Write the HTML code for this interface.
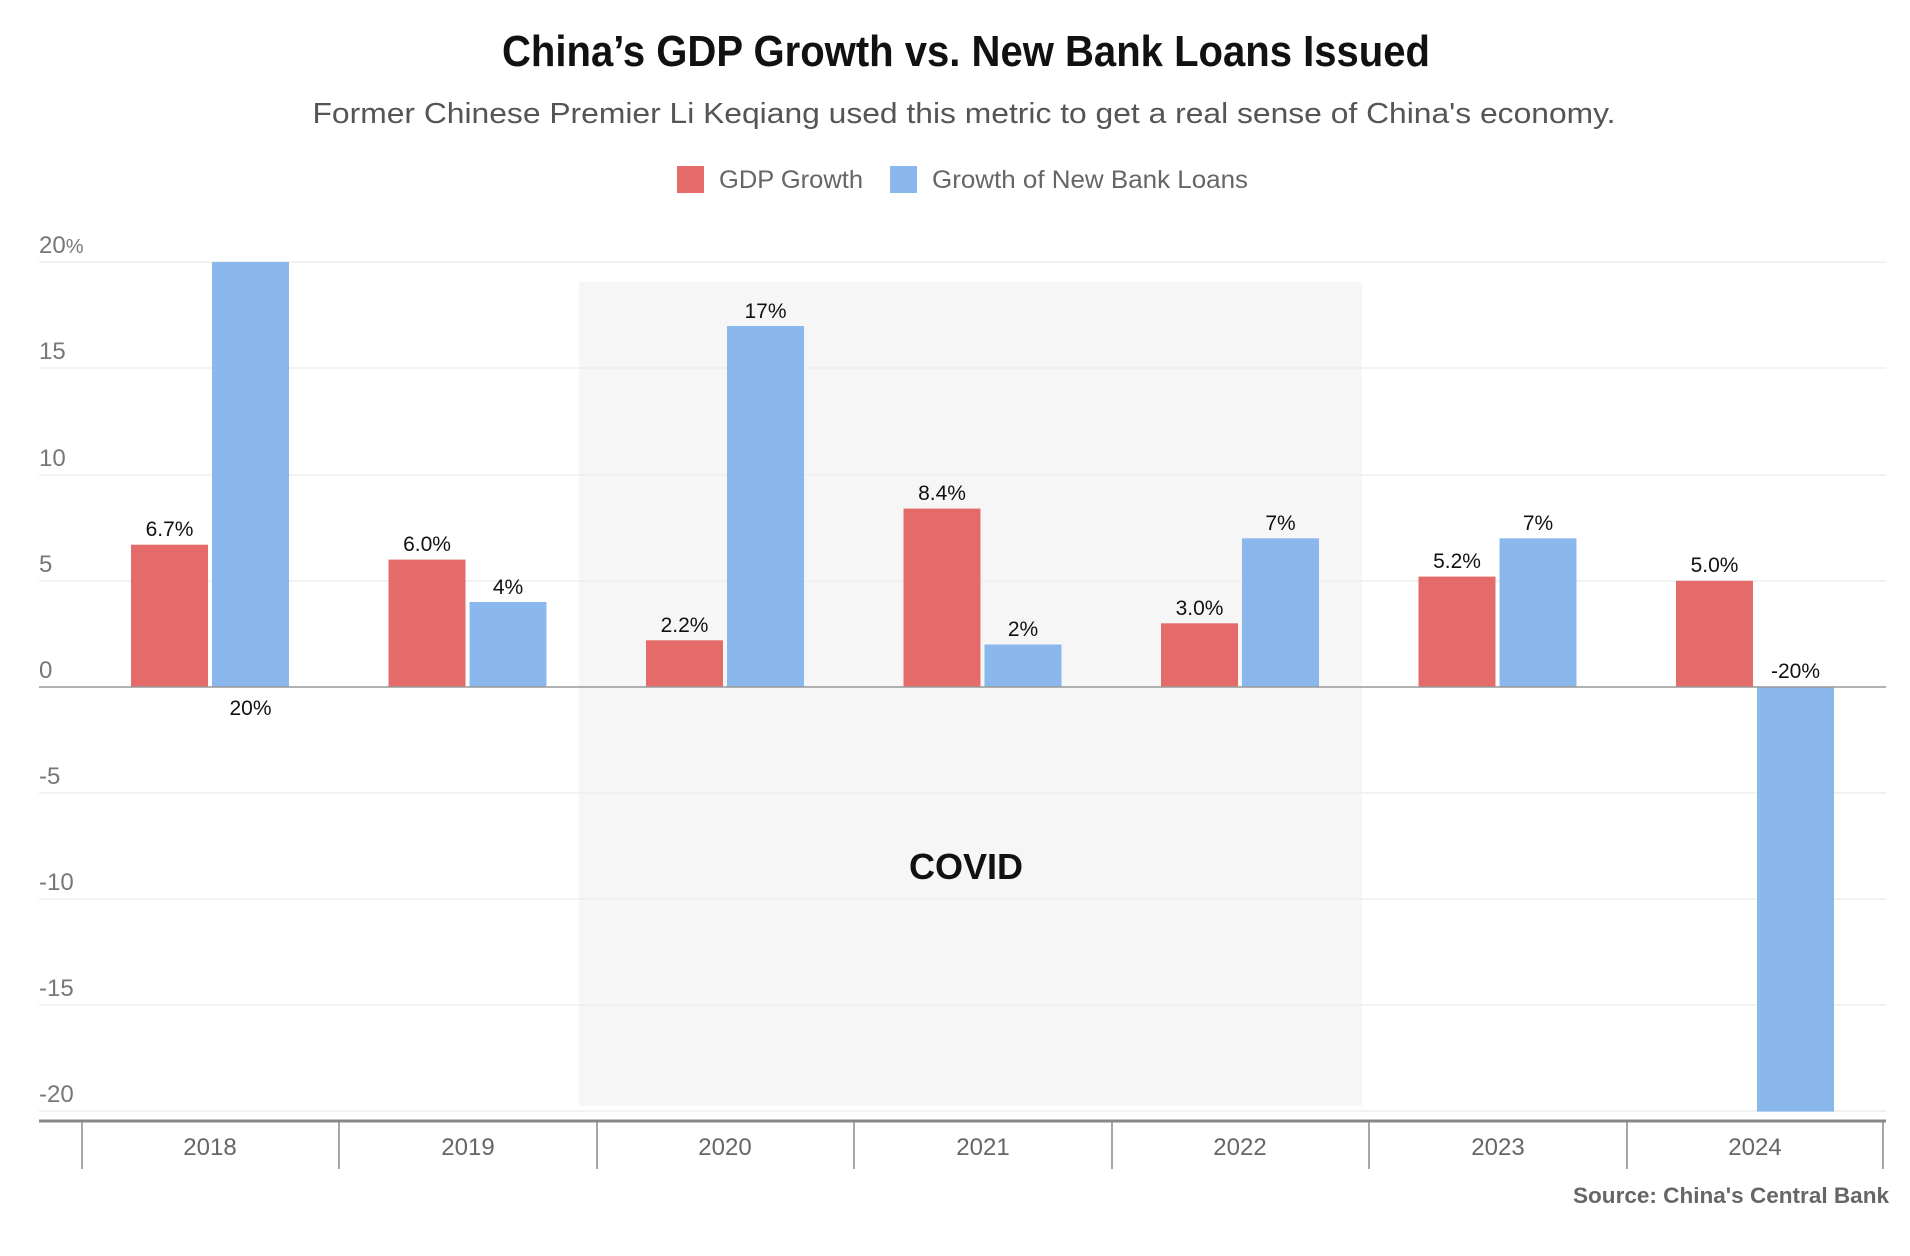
<!DOCTYPE html>
<html><head><meta charset="utf-8"><style>
html,body{margin:0;padding:0;background:#fff;}
svg{display:block;font-family:"Liberation Sans Narrow","Liberation Sans",sans-serif;}
</style></head><body>
<svg width="1910" height="1256" viewBox="0 0 1910 1256" xmlns="http://www.w3.org/2000/svg">
<rect width="1910" height="1256" fill="#fff"/>
<text x="966" y="66" text-anchor="middle" font-size="44" font-weight="bold" fill="#111" textLength="928" lengthAdjust="spacingAndGlyphs">China’s GDP Growth vs. New Bank Loans Issued</text>
<text x="964" y="123" text-anchor="middle" font-size="29" fill="#555" textLength="1303" lengthAdjust="spacingAndGlyphs">Former Chinese Premier Li Keqiang used this metric to get a real sense of China's economy.</text>
<rect x="677" y="166" width="27" height="27" fill="#e56b6b"/>
<text x="719" y="188" font-size="25" fill="#666" textLength="144" lengthAdjust="spacingAndGlyphs">GDP Growth</text>
<rect x="890" y="166" width="27" height="27" fill="#8bb8ec"/>
<text x="932" y="188" font-size="25" fill="#666" textLength="316" lengthAdjust="spacingAndGlyphs">Growth of New Bank Loans</text>

<rect x="579" y="282" width="783" height="824" fill="#f6f6f6"/>
<g stroke="#eeeeee" stroke-width="1.5">
<line x1="39" x2="1886" y1="262" y2="262"/>
<line x1="39" x2="1886" y1="368" y2="368"/>
<line x1="39" x2="1886" y1="475" y2="475"/>
<line x1="39" x2="1886" y1="581" y2="581"/>
<line x1="39" x2="1886" y1="793" y2="793"/>
<line x1="39" x2="1886" y1="899" y2="899"/>
<line x1="39" x2="1886" y1="1005" y2="1005"/>
<line x1="39" x2="1886" y1="1111" y2="1111"/>
</g>
<g font-size="24" fill="#777">
<text x="39" y="253">20<tspan font-size="20">%</tspan></text>
<text x="39" y="359">15</text>
<text x="39" y="466">10</text>
<text x="39" y="572">5</text>
<text x="39" y="678">0</text>
<text x="39" y="784">-5</text>
<text x="39" y="890">-10</text>
<text x="39" y="996">-15</text>
<text x="39" y="1102">-20</text>
</g>
<text x="966" y="879" text-anchor="middle" font-size="36" font-weight="bold" fill="#111">COVID</text>

<g fill="#e56b6b">
<rect x="131" y="544.7" width="77" height="142.3"/>
<rect x="388.5" y="559.6" width="77" height="127.4"/>
<rect x="646" y="640.3" width="77" height="46.7"/>
<rect x="903.5" y="508.6" width="77" height="178.4"/>
<rect x="1161" y="623.3" width="77" height="63.7"/>
<rect x="1418.5" y="576.6" width="77" height="110.4"/>
<rect x="1676" y="580.8" width="77" height="106.2"/>
</g>
<g fill="#8bb8ec">
<rect x="212" y="262" width="77" height="425"/>
<rect x="469.5" y="602" width="77" height="85"/>
<rect x="727" y="326" width="77" height="361"/>
<rect x="984.5" y="644.5" width="77" height="42.5"/>
<rect x="1242" y="538.3" width="77" height="148.7"/>
<rect x="1499.5" y="538.3" width="77" height="148.7"/>
<rect x="1757" y="687" width="77" height="424.6"/>
</g>
<line x1="39" x2="1886" y1="687" y2="687" stroke="#999" stroke-width="1.5"/>
<g font-size="21" fill="#111" text-anchor="middle">
<text x="169.5" y="536">6.7%</text>
<text x="250.5" y="715">20%</text>
<text x="427" y="551">6.0%</text>
<text x="508" y="594">4%</text>
<text x="684.5" y="632">2.2%</text>
<text x="765.5" y="318">17%</text>
<text x="942" y="500">8.4%</text>
<text x="1023" y="636">2%</text>
<text x="1199.5" y="615">3.0%</text>
<text x="1280.5" y="530">7%</text>
<text x="1457" y="568">5.2%</text>
<text x="1538" y="530">7%</text>
<text x="1714.5" y="572">5.0%</text>
<text x="1795.5" y="678">-20%</text>
</g>
<line x1="39" x2="1886" y1="1121" y2="1121" stroke="#888" stroke-width="3"/>
<g stroke="#888" stroke-width="1.5">
<line x1="82" x2="82" y1="1121" y2="1169"/>
<line x1="339" x2="339" y1="1121" y2="1169"/>
<line x1="597" x2="597" y1="1121" y2="1169"/>
<line x1="854" x2="854" y1="1121" y2="1169"/>
<line x1="1112" x2="1112" y1="1121" y2="1169"/>
<line x1="1369" x2="1369" y1="1121" y2="1169"/>
<line x1="1627" x2="1627" y1="1121" y2="1169"/>
<line x1="1883" x2="1883" y1="1121" y2="1169"/>
</g>
<g font-size="24" fill="#666" text-anchor="middle">
<text x="210" y="1155">2018</text>
<text x="468" y="1155">2019</text>
<text x="725" y="1155">2020</text>
<text x="983" y="1155">2021</text>
<text x="1240" y="1155">2022</text>
<text x="1498" y="1155">2023</text>
<text x="1755" y="1155">2024</text>
</g>
<text x="1889" y="1203" text-anchor="end" font-size="22" font-weight="bold" fill="#666" textLength="316" lengthAdjust="spacingAndGlyphs">Source: China's Central Bank</text>
</svg>
</body></html>
